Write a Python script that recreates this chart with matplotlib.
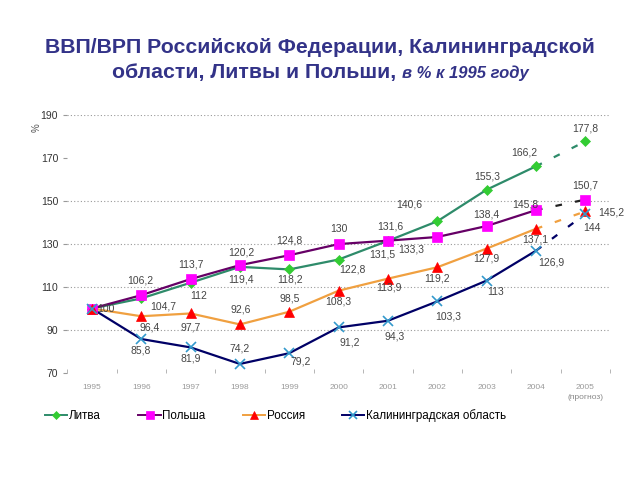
import matplotlib.pyplot as plt
from matplotlib.lines import Line2D

plt.rcParams["font.family"] = ["Liberation Sans", "DejaVu Sans"]

years = ["1995", "1996", "1997", "1998", "1999", "2000",
         "2001", "2002", "2003", "2004", "2005"]

litva = [100, 104.7, 112, 119.4, 118.2, 122.8, 131.5, 140.6, 155.3, 166.2, 177.8]
polsha = [100, 106.2, 113.7, 120.2, 124.8, 130, 131.6, 133.3, 138.4, 145.8, 150.7]
rossiya = [100, 96.4, 97.7, 92.6, 98.5, 108.3, 113.9, 119.2, 127.9, 137.1, 145.2]
kalin = [100, 85.8, 81.9, 74.2, 79.2, 91.2, 94.3, 103.3, 113, 126.9, 144]

# label offsets in pixels (dx, dy), None = no label
lit_off = [None, (22, -8), (8, -13), (1, -13), (1, -10), (14, -10),
           (-6, -14), (-28, 17), (1, 13), (-12, 14), (0, 13)]
pol_off = [None, (-1, 15), (0, 15), (1, 13), (0, 15), (0, 15),
           (2, 14), (-26, -13), (0, 12), (-11, 6), (0, 14)]
ros_off = [(14, 0), (8, -11), (0, -14), (1, 15), (0, 13), (0, -11),
           (1, -9), (0, -11), (0, -10), (-1, -11), (26, -1)]
kal_off = [None, (-1, -11), (0, -11), (0, 15), (11, -8), (11, -15),
           (7, -16), (11, -15), (9, -11), (15, -12), (7, -14)]

series = [
    ("Литва", litva, lit_off, "#2E8B6A", "#33CC33", "D", 5, "#2E8B6A"),
    ("Польша", polsha, pol_off, "#660066", "#FF00FF", "s", 7, "#222222"),
    ("Россия", rossiya, ros_off, "#F0A040", "#FF0000", "^", 7, "#F0A040"),
    ("Калининградская область", kalin, kal_off, "#000066", "#3399CC", "x", 7, "#000066"),
]

fig = plt.figure(figsize=(6.4, 4.8), dpi=100)
ax = fig.add_axes([0.105, 0.223, 0.848, 0.537])

x = list(range(len(years)))

for yv in [190, 150, 130, 110, 90]:
    ax.axhline(yv, color="#999999", lw=0.8, ls=(0, (1, 2)), zorder=0)

handles = []
for name, vals, offs, lc, mc, mk, ms, dc in series:
    ax.plot(x[:10], vals[:10], color=lc, lw=1.6, zorder=2)
    ax.plot(x[9:], vals[9:], color=dc, lw=1.6, ls=(0, (3, 6)), zorder=2)
    mew = 1.2 if mk == "x" else 0.5
    ax.plot(x, vals, ls="none", marker=mk, ms=ms, mfc=mc, mec=mc, mew=mew, zorder=3)
    for xi, v, o in zip(x, vals, offs):
        if o is None:
            continue
        lab = ("%g" % v).replace(".", ",")
        ax.annotate(lab, (xi, v), xytext=o, textcoords="offset pixels",
                    ha="center", va="center", fontsize=7.5, color="#444444",
                    zorder=4)
    handles.append(Line2D([], [], color=lc, lw=1.4, marker=mk, ms=ms - 1,
                          mfc=mc, mec=mc, mew=mew))

ax.set_xlim(-0.5, 10.5)
ax.set_ylim(70, 190)
ax.set_yticks([70, 90, 110, 130, 150, 170, 190])
ax.set_xticks(x)
ax.set_xticklabels(years)
ax.set_xticks([i + 0.5 for i in range(-1, 11)], minor=True)
ax.tick_params(axis="x", which="major", length=0, labelsize=6, colors="#9a9a9a", pad=8)
ax.tick_params(axis="x", which="minor", length=3, color="#aaaaaa", direction="in")
ax.tick_params(axis="y", length=3, labelsize=7.5, color="#999999", labelcolor="#333333")
for s in ax.spines.values():
    s.set_visible(False)

ax.text(10, -0.097, "(прогноз)", transform=ax.get_xaxis_transform(),
        ha="center", va="center", fontsize=6, color="#888888")
fig.text(0.058, 0.735, "%", rotation=90, fontsize=7, color="#555555",
         ha="center", va="center")

fig.text(0.5, 0.902, "ВВП/ВРП Российской Федерации, Калининградской",
         ha="center", va="center", fontsize=15.3, fontweight="bold", color="#333388")
t1 = fig.text(0.0, 0.848, "области, Литвы и Польши, ", ha="left", va="center",
              fontsize=15.3, fontweight="bold", color="#333388")
t2 = fig.text(0.0, 0.848, "в % к 1995 году", ha="left", va="center",
              fontsize=12, fontweight="bold", style="italic", color="#333388")
fig.canvas.draw()
r = fig.canvas.get_renderer()
w1 = t1.get_window_extent(r).width / fig.bbox.width
w2 = t2.get_window_extent(r).width / fig.bbox.width
start = 0.5 - (w1 + w2) / 2
t1.set_x(start)
t2.set_x(start + w1)

fig.legend(handles, [s[0] for s in series], loc="center", ncol=4,
           bbox_to_anchor=(0.431, 0.135), frameon=False, fontsize=8.4,
           handlelength=1.9, handletextpad=0.15, columnspacing=3.2)

fig.savefig("out.png", dpi=100)
